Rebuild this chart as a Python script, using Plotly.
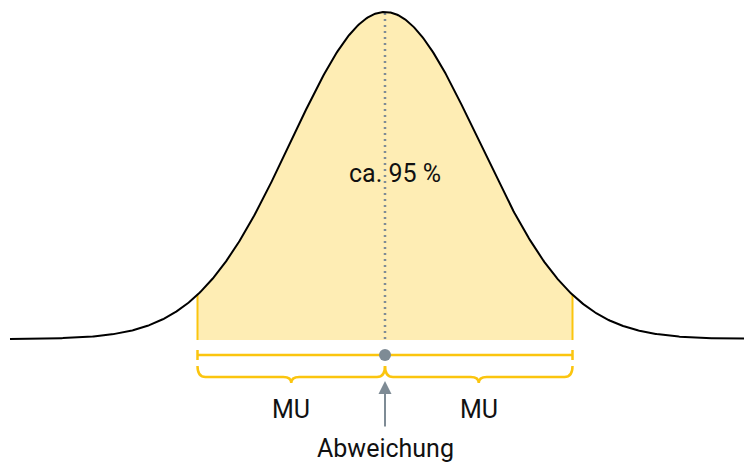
import numpy as np
import plotly.graph_objects as go

# ---- data ----
mean = 0.0            # centre of the distribution (in sigma units)
sigma = 1.0
peak = 1.0            # relative peak height
bounds = [-2.0, 2.0]  # ~95 % interval (±2 sigma)
curve_range = [-4.0, 4.2]
center_label = "ca. 95 %"
brace_labels = ["MU", "MU"]
arrow_label = "Abweichung"

# ---- styles ----
YELLOW = "#FBC50F"
FILL = "#FEEDB4"
GREY = "#7E8B95"
FONT = "Roboto"

# axis geometry (pixels -> data)
W, H = 752, 463
OFF = 8               # page body margin offset
px_x = 93.75          # pixels per sigma
x0_px = 385           # pixel of the mean
base_px, peak_px = 339, 12
py = (base_px - peak_px)  # pixels per unit height

def dy(px):  # reference pixel row -> data y
    return (base_px - px) / py

x = np.linspace(curve_range[0], curve_range[1], 801)
y = peak * np.exp(-0.5 * ((x - mean) / sigma) ** 2)

xs = np.linspace(bounds[0], bounds[1], 401)
ys = peak * np.exp(-0.5 * ((xs - mean) / sigma) ** 2)

fig = go.Figure()
# shaded area
fig.add_trace(go.Scatter(x=np.concatenate([[bounds[0]], xs, [bounds[1]]]),
                         y=np.concatenate([[dy(340)], ys, [dy(340)]]),
                         fill="toself", fillcolor=FILL, line=dict(width=0),
                         mode="lines", hoverinfo="skip"))
# boundary verticals
for b in bounds:
    yb = peak * np.exp(-0.5 * ((b - mean) / sigma) ** 2)
    fig.add_trace(go.Scatter(x=[b, b], y=[dy(340), yb], mode="lines",
                             line=dict(color=YELLOW, width=2), hoverinfo="skip"))
# dotted centre line
fig.add_trace(go.Scatter(x=[mean, mean], y=[0, peak], mode="lines",
                         line=dict(color=GREY, width=2.5, dash="2px,4px"), hoverinfo="skip"))
# curve
fig.add_trace(go.Scatter(x=x, y=y, mode="lines",
                         line=dict(color="black", width=2), hoverinfo="skip"))
# horizontal interval line
yl = dy(355)
fig.add_trace(go.Scatter(x=[bounds[0], bounds[1]], y=[yl, yl], mode="lines",
                         line=dict(color=YELLOW, width=2.5), hoverinfo="skip"))
for b in bounds:
    fig.add_trace(go.Scatter(x=[b, b], y=[dy(350), dy(360)], mode="lines",
                             line=dict(color=YELLOW, width=2.5), hoverinfo="skip"))
# centre dot
fig.add_trace(go.Scatter(x=[mean], y=[yl], mode="markers",
                         marker=dict(color=GREY, size=12), hoverinfo="skip"))

# braces
def brace(a, b):
    yt, ym, ytip = dy(366), dy(377), dy(383)
    rx = 8 / px_x
    c = (a + b) / 2
    return (f"M {a},{yt} Q {a},{ym} {a+rx},{ym} L {c-rx},{ym} "
            f"Q {c},{ym} {c},{ytip} Q {c},{ym} {c+rx},{ym} "
            f"L {b-rx},{ym} Q {b},{ym} {b},{yt}")

shapes = []
segs = [(bounds[0], mean), (mean, bounds[1])]
for (a, b) in segs:
    shapes.append(dict(type="path", path=brace(a, b), xref="x", yref="y",
                       line=dict(color=YELLOW, width=2.5)))

annotations = []
for (a, b), lab in zip(segs, brace_labels):
    annotations.append(dict(x=(a + b) / 2, y=dy(409), text=lab, showarrow=False,
                            font=dict(family=FONT, size=25, color="#111")))
annotations.append(dict(x=mean + 10 / px_x, y=dy(173), text=center_label, showarrow=False,
                        font=dict(family=FONT, size=25, color="#111")))
annotations.append(dict(x=mean, y=dy(448), text=arrow_label, showarrow=False,
                        font=dict(family=FONT, size=25, color="#111")))
# arrow
annotations.append(dict(x=mean, y=dy(381), ax=mean, ay=dy(428), xref="x", yref="y",
                        axref="x", ayref="y", text="", showarrow=True,
                        arrowhead=2, arrowsize=1.3, arrowwidth=2, arrowcolor=GREY))

fig.update_layout(
    width=W, height=H, margin=dict(l=0, r=0, t=0, b=0),
    paper_bgcolor="white", plot_bgcolor="white", showlegend=False,
    xaxis=dict(range=[(OFF - x0_px) / px_x, (W + OFF - x0_px) / px_x],
               visible=False, fixedrange=True),
    yaxis=dict(range=[dy(H + OFF), dy(OFF)], visible=False, fixedrange=True),
    shapes=shapes, annotations=annotations,
)
fig.write_html("out.html", config={"displayModeBar": False})
